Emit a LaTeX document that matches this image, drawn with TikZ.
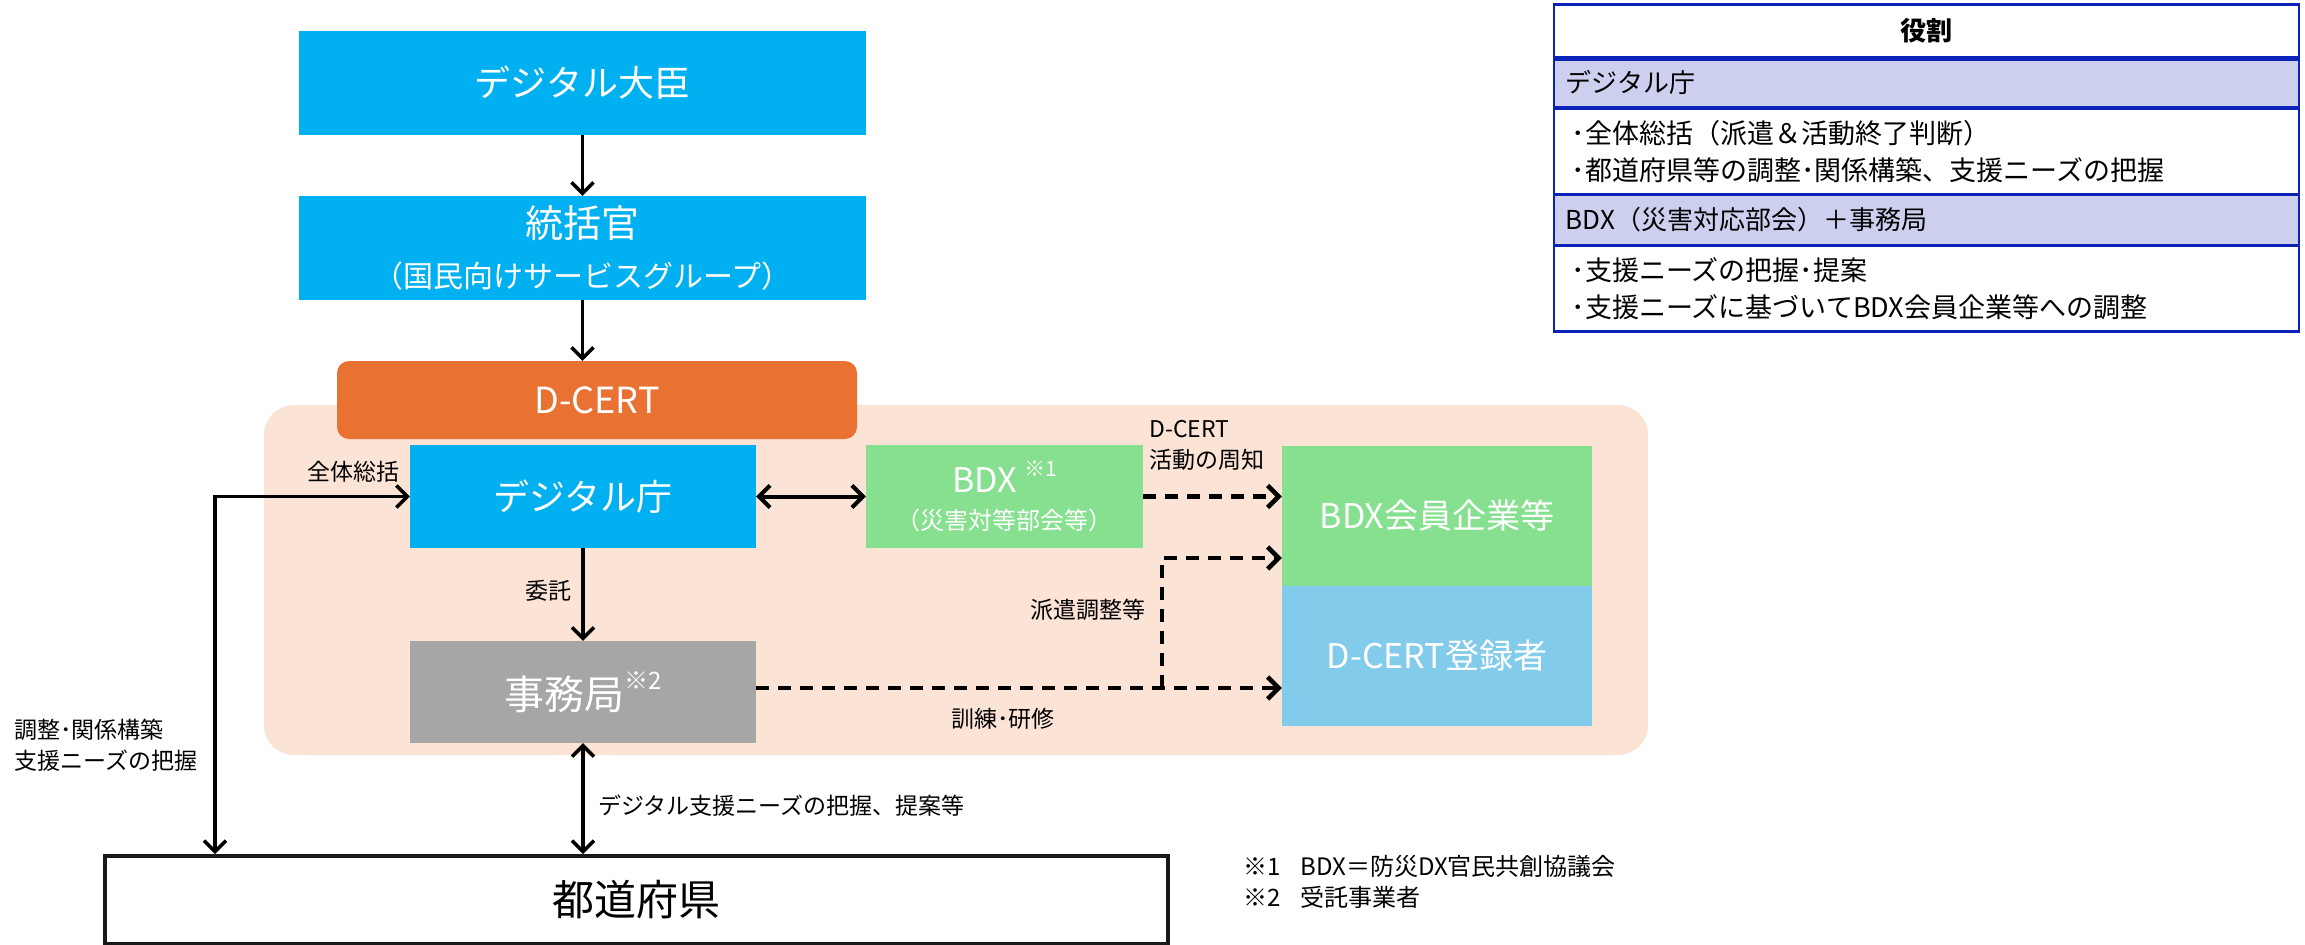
\documentclass[tikz,border=0pt]{standalone}
\usepackage{fontspec}
\setmainfont{Noto Sans CJK JP}
\usetikzlibrary{arrows.meta}

\definecolor{cyanbox}{HTML}{00B0F0}
\definecolor{dcertorange}{HTML}{E97132}
\definecolor{peach}{HTML}{FBE3D6}
\definecolor{bdxgreen}{HTML}{87E090}
\definecolor{regblue}{HTML}{83CBEB}
\definecolor{jimugray}{HTML}{A6A6A6}
\definecolor{lavender}{HTML}{CCD0EE}
\definecolor{tblue}{HTML}{0A22B8}

\newcommand{\fsz}[2]{\fontsize{#1}{#2}\selectfont}

\begin{document}
\begin{tikzpicture}[x=1pt,y=1pt,
  box/.style={inner sep=0pt, text=white, align=center},
  arr/.style={line width=3.5pt, -{Straight Barb[length=11pt,width=22pt]}},
  darr/.style={line width=3.5pt, {Straight Barb[length=11pt,width=22pt]}-{Straight Barb[length=11pt,width=22pt]}},
  dasharr/.style={line width=4.5pt, dash pattern=on 13pt off 9pt, -{Straight Barb[length=11pt,width=22pt]}},
  lbl/.style={inner sep=0pt, align=left, font=\fsz{23}{31}},
  tabrow/.style={anchor=north west, draw=tblue, line width=2.5pt, minimum width=745pt,
    text width=721pt, inner xsep=12pt, inner ysep=0pt, align=left, font=\fsz{26}{37}},
  tabbul/.style={tabrow, text width=709pt, inner xsep=18pt, font=\fsz{27}{37}}]
\useasboundingbox (0,0) rectangle (2305,-945);

% background of the D-CERT group
\fill[peach, rounded corners=30pt] (264,-405) rectangle (1648,-755);

% chain of command
\node[box, fill=cyanbox, minimum width=567pt, minimum height=104pt, font=\fsz{36}{40}]
  (minister) at (582.5,-83) {デジタル大臣};
\node[box, fill=cyanbox, minimum width=567pt, minimum height=104pt]
  (tokatsu) at (582.5,-248) {\fsz{38}{44}統括官\\[20pt]\fsz{30}{34}（国民向けサービスグループ）};
\node[box, fill=dcertorange, rounded corners=12pt, minimum width=520pt, minimum height=78pt, font=\fsz{36}{40}]
  (dcert) at (597,-400) {D-CERT};

% members of D-CERT
\node[box, fill=cyanbox, minimum width=346pt, minimum height=103pt, font=\fsz{36}{40}]
  (digi) at (583,-496.5) {デジタル庁};
\node[box, fill=bdxgreen, minimum width=277pt, minimum height=103pt]
  (bdx) at (1004.5,-496.5) {\fsz{34}{38}BDX \raisebox{0.45em}{\fsz{21}{21}※1}\\[16pt]\fsz{24}{28}（災害対等部会等）};
\node[box, fill=bdxgreen, minimum width=310pt, minimum height=140pt, font=\fsz{34}{40}]
  (bdxmem) at (1437,-516) {BDX会員企業等};
\node[box, fill=regblue, minimum width=310pt, minimum height=140pt, font=\fsz{34}{40}]
  (reg) at (1437,-656) {D-CERT登録者};
\node[box, fill=jimugray, minimum width=346pt, minimum height=102pt]
  (jimu) at (583,-692) {\fsz{40}{44}事務局\raisebox{0.5em}{\fsz{24}{24}※2}};

% prefectures
\node[inner sep=0pt, draw=black!90, line width=4pt, minimum width=1063pt, minimum height=88pt, font=\fsz{42}{46}]
  (ken) at (636.5,-900) {都道府県};

% connectors
\draw[arr] (minister) -- (tokatsu);
\draw[arr] (tokatsu.south) -- (tokatsu.south |- dcert.north);
\draw[arr] (digi) -- (jimu);
\draw[darr, line width=4pt] (digi) -- (bdx);
\draw[darr] (jimu) -- (jimu |- ken.north);
\coordinate (corner) at (215,-496.5);
\draw[darr] (digi.west) -- (corner) -- (corner |- ken.north);

\draw[dasharr] (bdx.east) -- (bdx.east -| bdxmem.west);
\coordinate (split) at (1162,-688);
\draw[dasharr] ([yshift=4pt]jimu.east) -- (split -| reg.west);
\draw[dasharr] (split) |- ([yshift=-42pt]bdxmem.west);

% labels
\node[lbl, anchor=east] (lblall) at (400,-472) {全体総括};
\node[lbl, anchor=east] (lblitaku) at (572,-591) {委託};
\node[lbl, anchor=north west] (lblchosei) at (14,-719) {調整･関係構築\\支援ニーズの把握};
\node[lbl, anchor=west] (lblneeds) at (598,-806) {デジタル支援ニーズの把握、提案等};
\node[lbl, anchor=north west] (lblshuchi) at (1149,-420) {D-CERT\\活動の周知};
\node[lbl, anchor=east] (lblhaken) at (1146,-610) {派遣調整等};
\node[lbl, anchor=center] (lblkunren) at (1003,-719) {訓練･研修};
\node[lbl, anchor=north west, font=\fsz{24}{31}] (notes) at (1243,-855) {※1\hspace{20pt}BDX＝防災DX官民共創協議会\\※2\hspace{20pt}受託事業者};

% role table
\node[tabrow, fill=white, minimum height=53pt, align=center, font=\fsz{26}{30}\bfseries] (rolehead) at (1552.5,-3) {役割};
\node[tabrow, fill=lavender, minimum height=50pt] (rowdigi) at (1552.5,-56) {デジタル庁};
\node[tabbul, fill=white, minimum height=86pt] (rowdigitxt) at (1552.5,-107)
  {･全体総括（派遣＆活動終了判断）\\･都道府県等の調整･関係構築、支援ニーズの把握};
\node[tabrow, fill=lavender, minimum height=51pt] (rowbdx) at (1552.5,-193) {BDX（災害対応部会）＋事務局};
\node[tabbul, fill=white, minimum height=86pt] (rowbdxtxt) at (1552.5,-244)
  {･支援ニーズの把握･提案\\･支援ニーズに基づいてBDX会員企業等への調整};
\draw[tblue, line width=5pt] (rolehead.south west) -- (rolehead.south east);
\end{tikzpicture}
\end{document}
